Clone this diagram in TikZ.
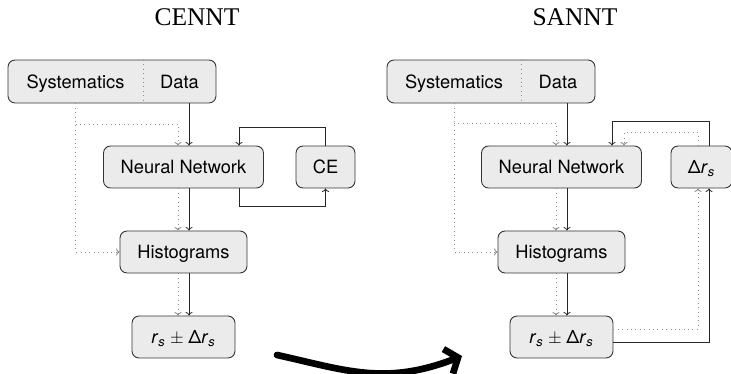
\documentclass[tikz,border=0pt]{standalone}
\usepackage{fontspec}
\setsansfont{TeX Gyre Heros}
\newfontfamily\titlefont{Liberation Serif}
\usepackage{tikz}
\usetikzlibrary{positioning, arrows.meta, calc}

\newcommand{\rsub}{\textit{r}\textsubscript{\textit{s}}}

\begin{document}
\begin{tikzpicture}[x=0.02cm, y=-0.02cm, >={To[length=2pt,width=4pt]},
  box/.style={draw=black!80, fill=black!8, rounded corners=4pt, line width=0.5pt,
    inner sep=0pt, minimum height=0.84cm, text height=7.5pt, text depth=0pt,
    font=\sffamily\fontsize{10.4}{12}\selectfont},
  label/.style={inner sep=0pt, text height=7.5pt, text depth=0pt,
    font=\sffamily\fontsize{10.4}{12}\selectfont},
  flow/.style={->, black!85, line width=0.45pt},
  sysflow/.style={->, black!45, dotted, line width=0.5pt},
  heading/.style={font=\titlefont\fontsize{14.5}{16}\selectfont}]

\useasboundingbox (0, 0) rectangle (731, 374);

% --- Titles ---
\node[heading] (titleL) at (197, 17) {CENNT};
\node[heading] (titleR) at (575, 17) {SANNT};

% --- CENNT boxes ---
\node[box, minimum width=4.16cm, minimum height=0.86cm] (sysL) at (112, 81.5) {};
\draw[black!45, dotted, line width=0.5pt] (143, 60) -- (143, 103);
\node[label] (sysTxtL) at (75.5, 81.5) {Systematics};
\node[label] (dataL) at (179.5, 81.5) {Data};
\node[box, minimum width=3.2cm] (nnL) at (183.5, 167) {Neural Network};
\node[box, minimum width=1.18cm] (ceL) at (325.5, 167) {CE};
\node[box, minimum width=2.54cm] (histL) at (183.5, 252) {Histograms};
\node[box, minimum width=2.06cm] (resL) at (183.5, 337)
  {\rsub\hspace{2.6pt}$\pm$\hspace{2.6pt}Δ\rsub};

% --- CENNT connectors ---
\draw[flow] ([xshift=0.11cm]nnL.north |- sysL.south) -- ([xshift=0.11cm]nnL.north);
\draw[flow] ([xshift=0.11cm]nnL.south) -- ([xshift=0.11cm]histL.north);
\draw[flow] ([xshift=0.11cm]histL.south) -- ([xshift=0.11cm]resL.north);
\draw[sysflow] (sysTxtL |- sysL.south) |- (histL.west);
\draw[sysflow] (sysTxtL |- 0,124) -| ([xshift=-0.11cm]nnL.north);
\draw[sysflow] ([xshift=-0.11cm]nnL.south) -- ([xshift=-0.11cm]histL.north);
\draw[sysflow] ([xshift=-0.11cm]histL.south) -- ([xshift=-0.11cm]resL.north);
\draw[flow] (ceL.north) -- ++(0, -18) -| ([xshift=1.11cm]nnL.north);
\draw[flow] ([xshift=1.11cm]nnL.south) -- ++(0, 18) -| (ceL.south);

% --- SANNT boxes ---
\node[box, minimum width=4.16cm, minimum height=0.86cm] (sysR) at (491, 81.5) {};
\draw[black!45, dotted, line width=0.5pt] (521, 60) -- (521, 103);
\node[label] (sysTxtR) at (454, 81.5) {Systematics};
\node[label] (dataR) at (558, 81.5) {Data};
\node[box, minimum width=3.2cm] (nnR) at (561.5, 167) {Neural Network};
\node[box, minimum width=1.22cm] (drR) at (701.5, 167) {Δ\rsub};
\node[box, minimum width=2.54cm] (histR) at (561.5, 252) {Histograms};
\node[box, minimum width=2.06cm] (resR) at (561.5, 337)
  {\rsub\hspace{2.6pt}$\pm$\hspace{2.6pt}Δ\rsub};

% --- SANNT connectors ---
\draw[flow] ([xshift=0.11cm]nnR.north |- sysR.south) -- ([xshift=0.11cm]nnR.north);
\draw[flow] ([xshift=0.11cm]nnR.south) -- ([xshift=0.11cm]histR.north);
\draw[flow] ([xshift=0.11cm]histR.south) -- ([xshift=0.11cm]resR.north);
\draw[sysflow] (sysTxtR |- sysR.south) |- (histR.west);
\draw[sysflow] (sysTxtR |- 0,123) -| ([xshift=-0.11cm]nnR.north);
\draw[sysflow] ([xshift=-0.11cm]nnR.south) -- ([xshift=-0.11cm]histR.north);
\draw[sysflow] ([xshift=-0.11cm]histR.south) -- ([xshift=-0.11cm]resR.north);
\draw[flow] ([xshift=0.15cm]drR.north) -- ++(0, -24) -| ([xshift=1.01cm]nnR.north);
\draw[sysflow] ([xshift=-0.07cm]drR.north) -- ++(0, -13) -| ([xshift=1.25cm]nnR.north);
\draw[flow] ([yshift=-0.1cm]resR.east) -| ([xshift=0.15cm]drR.south);
\draw[sysflow] ([yshift=0.16cm]resR.east) -| ([xshift=-0.07cm]drR.south);

% --- Big arrow between the two ---
\coordinate (bendA) at (277, 355);
\coordinate (bendB) at (462, 356);
\draw[line width=3.8pt, line cap=round, -{Straight Barb[length=6pt, width=15pt]}]
  (bendA) .. controls (345, 370) and (385, 386) .. (bendB);

\end{tikzpicture}
\end{document}
